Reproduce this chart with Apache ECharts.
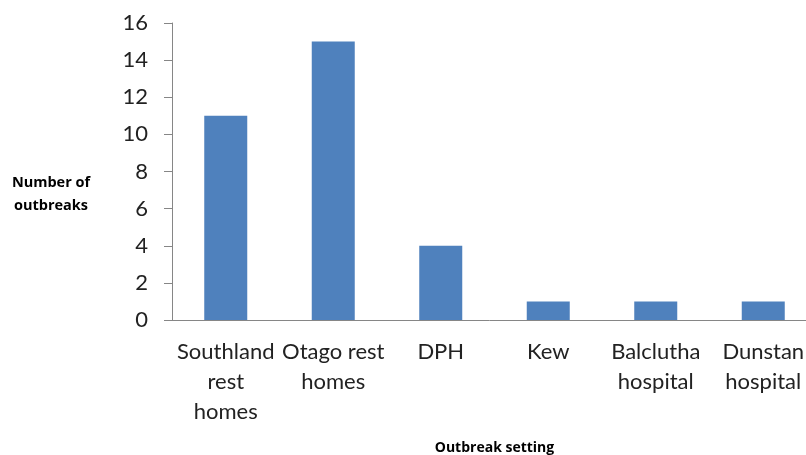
<!DOCTYPE html>
<html>
<head>
<meta charset="utf-8">
<script src="https://cdn.jsdelivr.net/npm/echarts@6/dist/echarts.min.js"></script>
<style>
  html, body { margin: 0; padding: 0; background: #fff; }
  #chart { width: 806px; height: 455px; }
</style>
</head>
<body>
<div id="chart"></div>
<script>
// outbreak counts by setting
const settings = [
  "Southland\nrest\nhomes",
  "Otago rest\nhomes",
  "DPH",
  "Kew",
  "Balclutha\nhospital",
  "Dunstan\nhospital"
];
const outbreaks = [11, 15, 4, 1, 1, 1];

const chart = echarts.init(document.getElementById("chart"));
const font = "Lato, 'Open Sans', sans-serif";
const nameFont = "'Open Sans', sans-serif";

chart.setOption({
  animation: false,
  grid: { left: 172, top: 23, width: 645, height: 297, outerBoundsMode: "none" },
  xAxis: {
    type: "category",
    data: settings,
    name: "Outbreak setting",
    nameLocation: "middle",
    nameGap: 121,
    nameTextStyle: { fontFamily: nameFont, fontSize: 14, fontWeight: "bold", color: "#000" },
    axisLine: { lineStyle: { color: "#868686", width: 1 } },
    axisTick: { length: 8, lineStyle: { color: "#868686" } },
    axisLabel: {
      margin: 17,
      fontFamily: font,
      fontSize: 22,
      lineHeight: 30,
      color: "#222",
      interval: 0
    }
  },
  yAxis: {
    type: "value",
    min: 0,
    max: 16,
    interval: 2,
    name: "Number of\noutbreaks",
    nameLocation: "middle",
    nameRotate: 0,
    nameGap: 121,
    nameTextStyle: {
      fontFamily: nameFont, fontSize: 14.5, fontWeight: "bold", color: "#000",
      align: "center", verticalAlign: "top", lineHeight: 23
    },
    splitLine: { show: false },
    axisLine: { show: true, lineStyle: { color: "#868686", width: 1 } },
    axisTick: { show: true, length: 8, lineStyle: { color: "#868686" } },
    axisLabel: { margin: 24, fontFamily: font, fontSize: 22, color: "#222" }
  },
  series: [
    {
      type: "bar",
      data: outbreaks,
      barWidth: 43,
      itemStyle: { color: "#4F81BD" }
    }
  ]
});
</script>
</body>
</html>
